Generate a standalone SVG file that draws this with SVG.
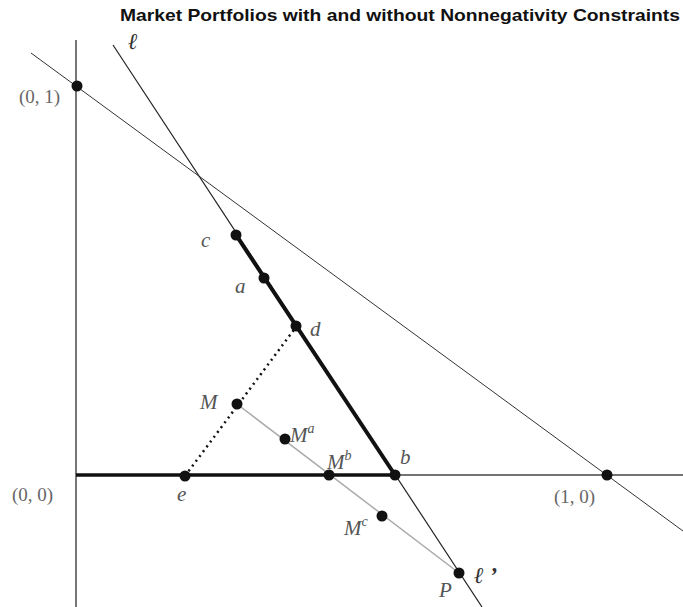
<svg xmlns="http://www.w3.org/2000/svg" width="683" height="607" viewBox="0 0 683 607">
<style>
.lbl{font-family:"Liberation Serif","DejaVu Serif",serif;font-style:italic;font-size:21px;fill:#555}
.sup{font-size:14px}
.coord{font-family:"Liberation Serif","DejaVu Serif",serif;font-size:19px;fill:#666}
.ell{font-family:"Liberation Serif","DejaVu Serif",serif;font-style:italic;font-weight:bold;font-size:23px;fill:#333}
.dot{fill:#111}
</style>
<rect width="683" height="607" fill="#fff"/>
<text x="120" y="21" font-family="Liberation Sans, Arial, sans-serif" font-weight="bold" font-size="17" textLength="560" lengthAdjust="spacingAndGlyphs" fill="#111">Market Portfolios with and without Nonnegativity Constraints</text>
<g id="connectors" fill="none">
<line x1="76" y1="40" x2="76" y2="607" stroke="#777" stroke-width="2"/>
<line x1="395" y1="475" x2="683" y2="475" stroke="#444" stroke-width="1.5"/>
<line x1="76" y1="475" x2="395" y2="475" stroke="#111" stroke-width="3.5"/>
<line x1="31" y1="53" x2="683" y2="531" stroke="#333" stroke-width="1"/>
<line x1="113" y1="45" x2="482" y2="607" stroke="#222" stroke-width="1.2"/>
<line x1="236" y1="235" x2="395" y2="475" stroke="#111" stroke-width="4"/>
<line x1="237" y1="404" x2="459" y2="573" stroke="#aaa" stroke-width="1.5"/>
<line x1="185" y1="476" x2="296" y2="327" stroke="#111" stroke-width="2.5" stroke-dasharray="2,4"/>
</g>
<g id="p01"><circle class="dot" cx="77" cy="86" r="5.5"/><text class="coord" x="19" y="103">(0, 1)</text></g>
<g id="p00"><text class="coord" x="12" y="501">(0, 0)</text></g>
<g id="p10"><circle class="dot" cx="607" cy="475" r="5.5"/><text class="coord" x="554" y="503">(1, 0)</text></g>
<g id="c"><circle class="dot" cx="236" cy="235" r="5.5"/><text class="lbl" x="201" y="247">c</text></g>
<g id="a"><circle class="dot" cx="264" cy="278" r="5.5"/><text class="lbl" x="235" y="293">a</text></g>
<g id="d"><circle class="dot" cx="296" cy="326" r="5.5"/><text class="lbl" x="310" y="336">d</text></g>
<g id="M"><circle class="dot" cx="237" cy="404" r="5.5"/><text class="lbl" x="200" y="409">M</text></g>
<g id="Ma"><circle class="dot" cx="285" cy="439" r="5.5"/><text class="lbl" x="290" y="442">M<tspan class="sup" dy="-9">a</tspan></text></g>
<g id="Mb"><circle class="dot" cx="329" cy="475" r="5.5"/><text class="lbl" x="327" y="469">M<tspan class="sup" dy="-9">b</tspan></text></g>
<g id="b"><circle class="dot" cx="395" cy="475" r="5.5"/><text class="lbl" x="400" y="464">b</text></g>
<g id="e"><circle class="dot" cx="185" cy="476" r="5.5"/><text class="lbl" x="177" y="501">e</text></g>
<g id="Mc"><circle class="dot" cx="382" cy="516" r="5.5"/><text class="lbl" x="344" y="535">M<tspan class="sup" dy="-9">c</tspan></text></g>
<g id="P"><circle class="dot" cx="459" cy="573" r="5.5"/><text class="lbl" x="439" y="597">P</text></g>
<g id="l"><text class="ell" x="128" y="49">ℓ</text></g>
<g id="lp"><text class="ell" x="474" y="583">ℓ ’</text></g>
</svg>
